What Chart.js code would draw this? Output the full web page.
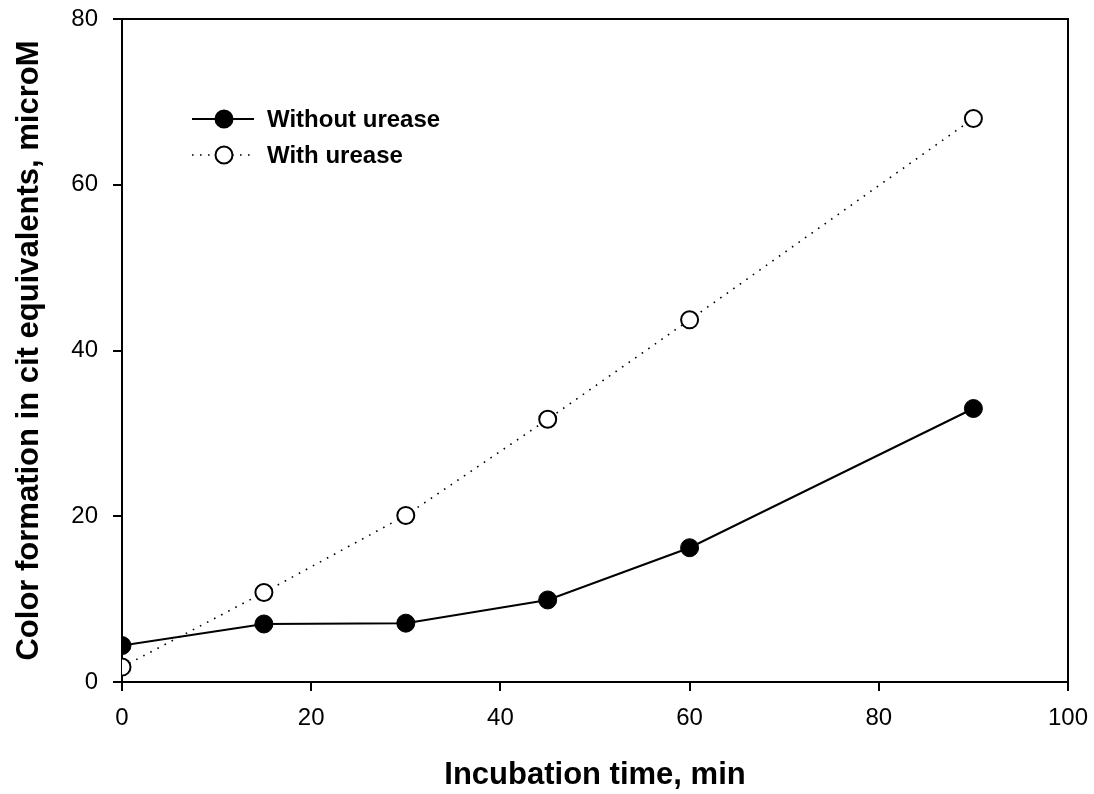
<!DOCTYPE html>
<html>
<head>
<meta charset="utf-8">
<script src="https://cdn.jsdelivr.net/npm/chart.js@4"></script>
<style>
  html, body { margin: 0; padding: 0; background: #fff; }
  #wrap { width: 1094px; height: 794px; }
</style>
</head>
<body>
<div id="wrap"><canvas id="chart" width="1094" height="794"></canvas></div>
<script>
// Incubation times (min)
const times = [0, 15, 30, 45, 60, 90];
// Color formation, cit equivalents (microM)
const withoutUrease = [4.4, 7.0, 7.1, 9.9, 16.2, 33.0];
const withUrease = [1.8, 10.8, 20.1, 31.7, 43.7, 68.0];
const seriesNames = ['Without urease', 'With urease'];
const xTicks = [0, 20, 40, 60, 80, 100];
const yTicks = [0, 20, 40, 60, 80];

const FONT = "'Liberation Sans', Arial, sans-serif";

function toPoints(ys) {
    return times.map(function(t, i) { return { x: t, y: ys[i] }; });
}

// frame on top/right plus the in-plot legend
const framePlugin = {
    id: 'frame',
    afterDraw: function(chart) {
        const ctx = chart.ctx;
        const a = chart.chartArea;
        ctx.save();
        ctx.strokeStyle = '#000';
        ctx.lineWidth = 2;
        ctx.beginPath();
        ctx.moveTo(a.left, a.top);
        ctx.lineTo(a.right, a.top);
        ctx.lineTo(a.right, a.bottom);
        ctx.stroke();

        // legend
        const rows = [119, 155];
        chart.data.datasets.forEach(function(ds, i) {
            const y = rows[i];
            ctx.lineWidth = ds.borderWidth;
            ctx.setLineDash(ds.borderDash || []);
            ctx.beginPath();
            ctx.moveTo(192, y);
            ctx.lineTo(254, y);
            ctx.stroke();
            ctx.setLineDash([]);
            ctx.beginPath();
            ctx.arc(224, y, 8.5, 0, Math.PI * 2);
            ctx.fillStyle = ds.pointBackgroundColor;
            ctx.fill();
            ctx.lineWidth = 2;
            ctx.stroke();
            ctx.fillStyle = '#000';
            ctx.font = 'bold 24px ' + FONT;
            ctx.textBaseline = 'middle';
            ctx.fillText(ds.label, 267, y + 1);
        });
        ctx.restore();
    }
};

new Chart(document.getElementById('chart'), {
    type: 'scatter',
    data: {
        datasets: [{
            label: seriesNames[0],
            data: toPoints(withoutUrease),
            showLine: true,
            borderColor: '#000',
            borderWidth: 2,
            pointRadius: 9,
            pointBackgroundColor: '#000',
            pointBorderColor: '#000',
            pointBorderWidth: 1
        }, {
            label: seriesNames[1],
            data: toPoints(withUrease),
            showLine: true,
            borderColor: '#000',
            borderWidth: 1.6,
            borderDash: [1.6, 6.4],
            pointRadius: 8.5,
            pointBackgroundColor: '#fff',
            pointBorderColor: '#000',
            pointBorderWidth: 2
        }]
    },
    options: {
        responsive: false,
        animation: false,
        layout: { padding: { left: 0, top: 19, right: 26, bottom: 0 } },
        plugins: {
            legend: { display: false },
            tooltip: { enabled: false }
        },
        scales: {
            x: {
                type: 'linear',
                min: 0,
                max: 100,
                afterFit: function(scale) {
                    scale.height = 112;
                    scale.paddingLeft = 0;
                    scale.paddingRight = 0;
                },
                afterBuildTicks: function(scale) {
                    scale.ticks = xTicks.map(function(v) { return { value: v }; });
                },
                border: { color: '#000', width: 2 },
                grid: { drawOnChartArea: false, color: '#000', lineWidth: 2, tickLength: 9 },
                ticks: { color: '#000', font: { family: FONT, size: 24 }, padding: 13 },
                title: {
                    display: true,
                    text: 'Incubation time, min',
                    color: '#000',
                    font: { family: FONT, size: 31, weight: 'bold' },
                    padding: { top: 0, bottom: 0 }
                }
            },
            y: {
                min: 0,
                max: 80,
                afterFit: function(scale) {
                    scale.width = 122;
                    scale.paddingTop = 0;
                    scale.paddingBottom = 0;
                },
                afterBuildTicks: function(scale) {
                    scale.ticks = yTicks.map(function(v) { return { value: v }; });
                },
                border: { color: '#000', width: 2 },
                grid: { drawOnChartArea: false, color: '#000', lineWidth: 2, tickLength: 9 },
                ticks: { color: '#000', font: { family: FONT, size: 24 }, padding: 15 },
                title: {
                    display: true,
                    text: 'Color formation in cit equivalents, microM',
                    color: '#000',
                    font: { family: FONT, size: 31, weight: 'bold' },
                    padding: { top: 11, bottom: 0 }
                }
            }
        }
    },
    plugins: [framePlugin]
});
</script>
</body>
</html>
